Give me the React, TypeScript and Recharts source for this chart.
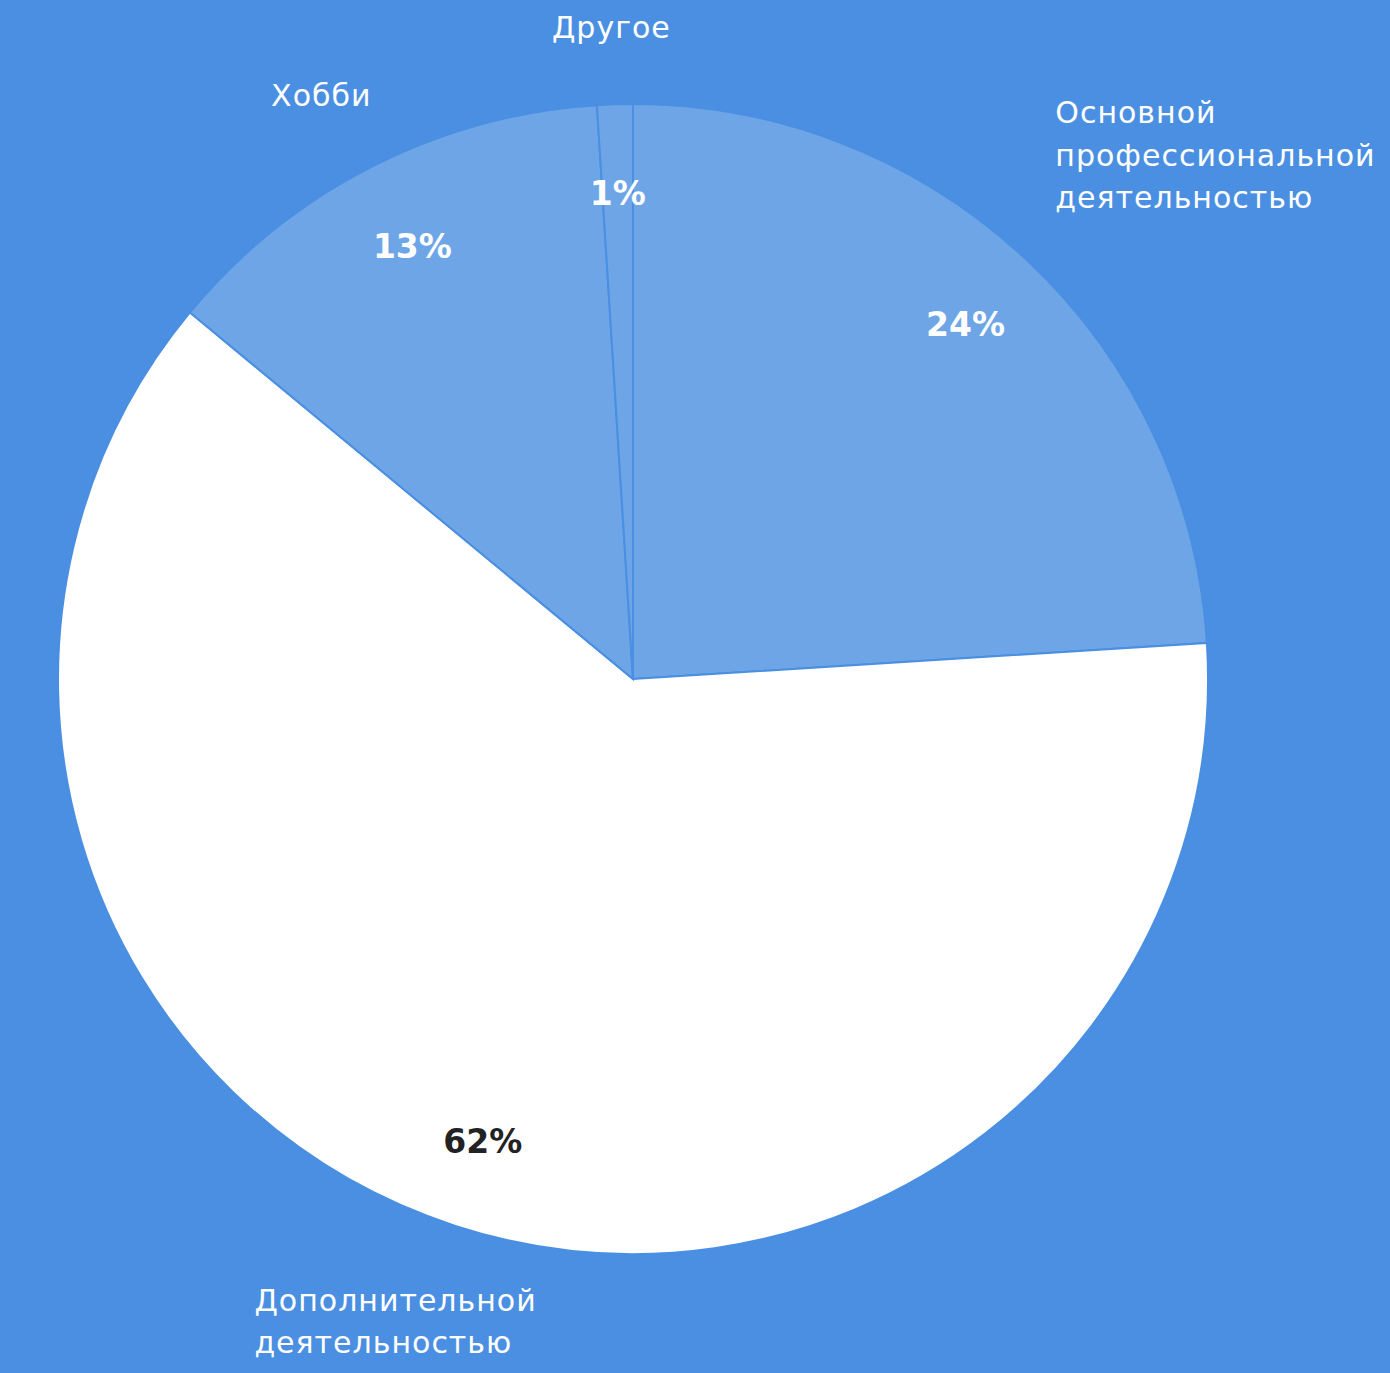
import React from "react";
import { PieChart, Pie, Cell } from "recharts";

// Slice names (clockwise from 12 o'clock) and their shares in percent
const categories = [
  "Основной\nпрофессиональной\nдеятельностью",
  "Дополнительной\nдеятельностью",
  "Хобби",
  "Другое",
];
const shares = [24, 62, 13, 1];
const sliceColors = ["#6EA5E7", "#FFFFFF", "#6EA5E7", "#6EA5E7"];
const valueTextColors = ["#FFFFFF", "#222222", "#FFFFFF", "#FFFFFF"];

const data = categories.map((name, i) => ({ name, value: shares[i] }));

const BG = "#4A8FE2";
const RAD = Math.PI / 180;
const NAME_FONT = 30;
const NAME_LINE = 42.5;
const NAME_OFFSET = 56;
const FONT = "'DejaVu Sans', sans-serif";

const renderLabel = (props: any) => {
  const { cx, cy, midAngle, outerRadius, index, name, value } = props;
  const vx = Math.cos(-midAngle * RAD);
  const vy = Math.sin(-midAngle * RAD);

  // value inside the slice
  const rIn = outerRadius * 0.845;
  const px = cx + vx * rIn;
  const py = cy + vy * rIn;

  // name outside the slice: the box sits beyond the rim, pushed out along
  // the slice direction so that it clears the edge
  const lines = String(name).split("\n");
  const w = Math.max(...lines.map((l) => l.length)) * NAME_FONT * 0.66;
  const h = lines.length * NAME_LINE;
  const ax = cx + vx * outerRadius;
  const ay = cy + vy * outerRadius;
  const vs = 1 / Math.max(Math.abs(vx), Math.abs(vy));
  const bx = ax + (w / 2) * vx * vs + NAME_OFFSET * vx;
  const by = ay + (h / 2) * vy * vs + NAME_OFFSET * vy;
  const left = bx - w / 2;
  const top = by - h / 2;

  return (
    <g key={`lbl-${index}`}>
      <text
        x={px}
        y={py}
        fill={valueTextColors[index]}
        textAnchor="middle"
        dominantBaseline="central"
        fontFamily={FONT}
        fontWeight="bold"
        fontSize={33}
      >
        {`${value}%`}
      </text>
      {lines.map((line, li) => (
        <text
          key={li}
          x={lines.length > 1 ? left : bx}
          y={top + NAME_LINE * (li + 0.5)}
          fill="#FFFFFF"
          textAnchor={lines.length > 1 ? "start" : "middle"}
          dominantBaseline="central"
          fontFamily={FONT}
          fontSize={NAME_FONT}
          letterSpacing={1}
        >
          {line}
        </text>
      ))}
    </g>
  );
};

export default function App() {
  return (
    <div
      style={{
        position: "absolute",
        left: 0,
        top: 0,
        width: 1390,
        height: 1373,
        background: BG,
        overflow: "hidden",
      }}
    >
      <PieChart
        width={1390}
        height={1373}
        margin={{ top: 0, right: 0, bottom: 0, left: 0 }}
      >
        <Pie
          data={data}
          dataKey="value"
          nameKey="name"
          cx={633}
          cy={679}
          outerRadius={575}
          startAngle={90}
          endAngle={-270}
          stroke={BG}
          strokeWidth={2}
          label={renderLabel}
          labelLine={false}
          isAnimationActive={false}
        >
          {data.map((d, i) => (
            <Cell key={d.name} fill={sliceColors[i]} />
          ))}
        </Pie>
      </PieChart>
    </div>
  );
}
